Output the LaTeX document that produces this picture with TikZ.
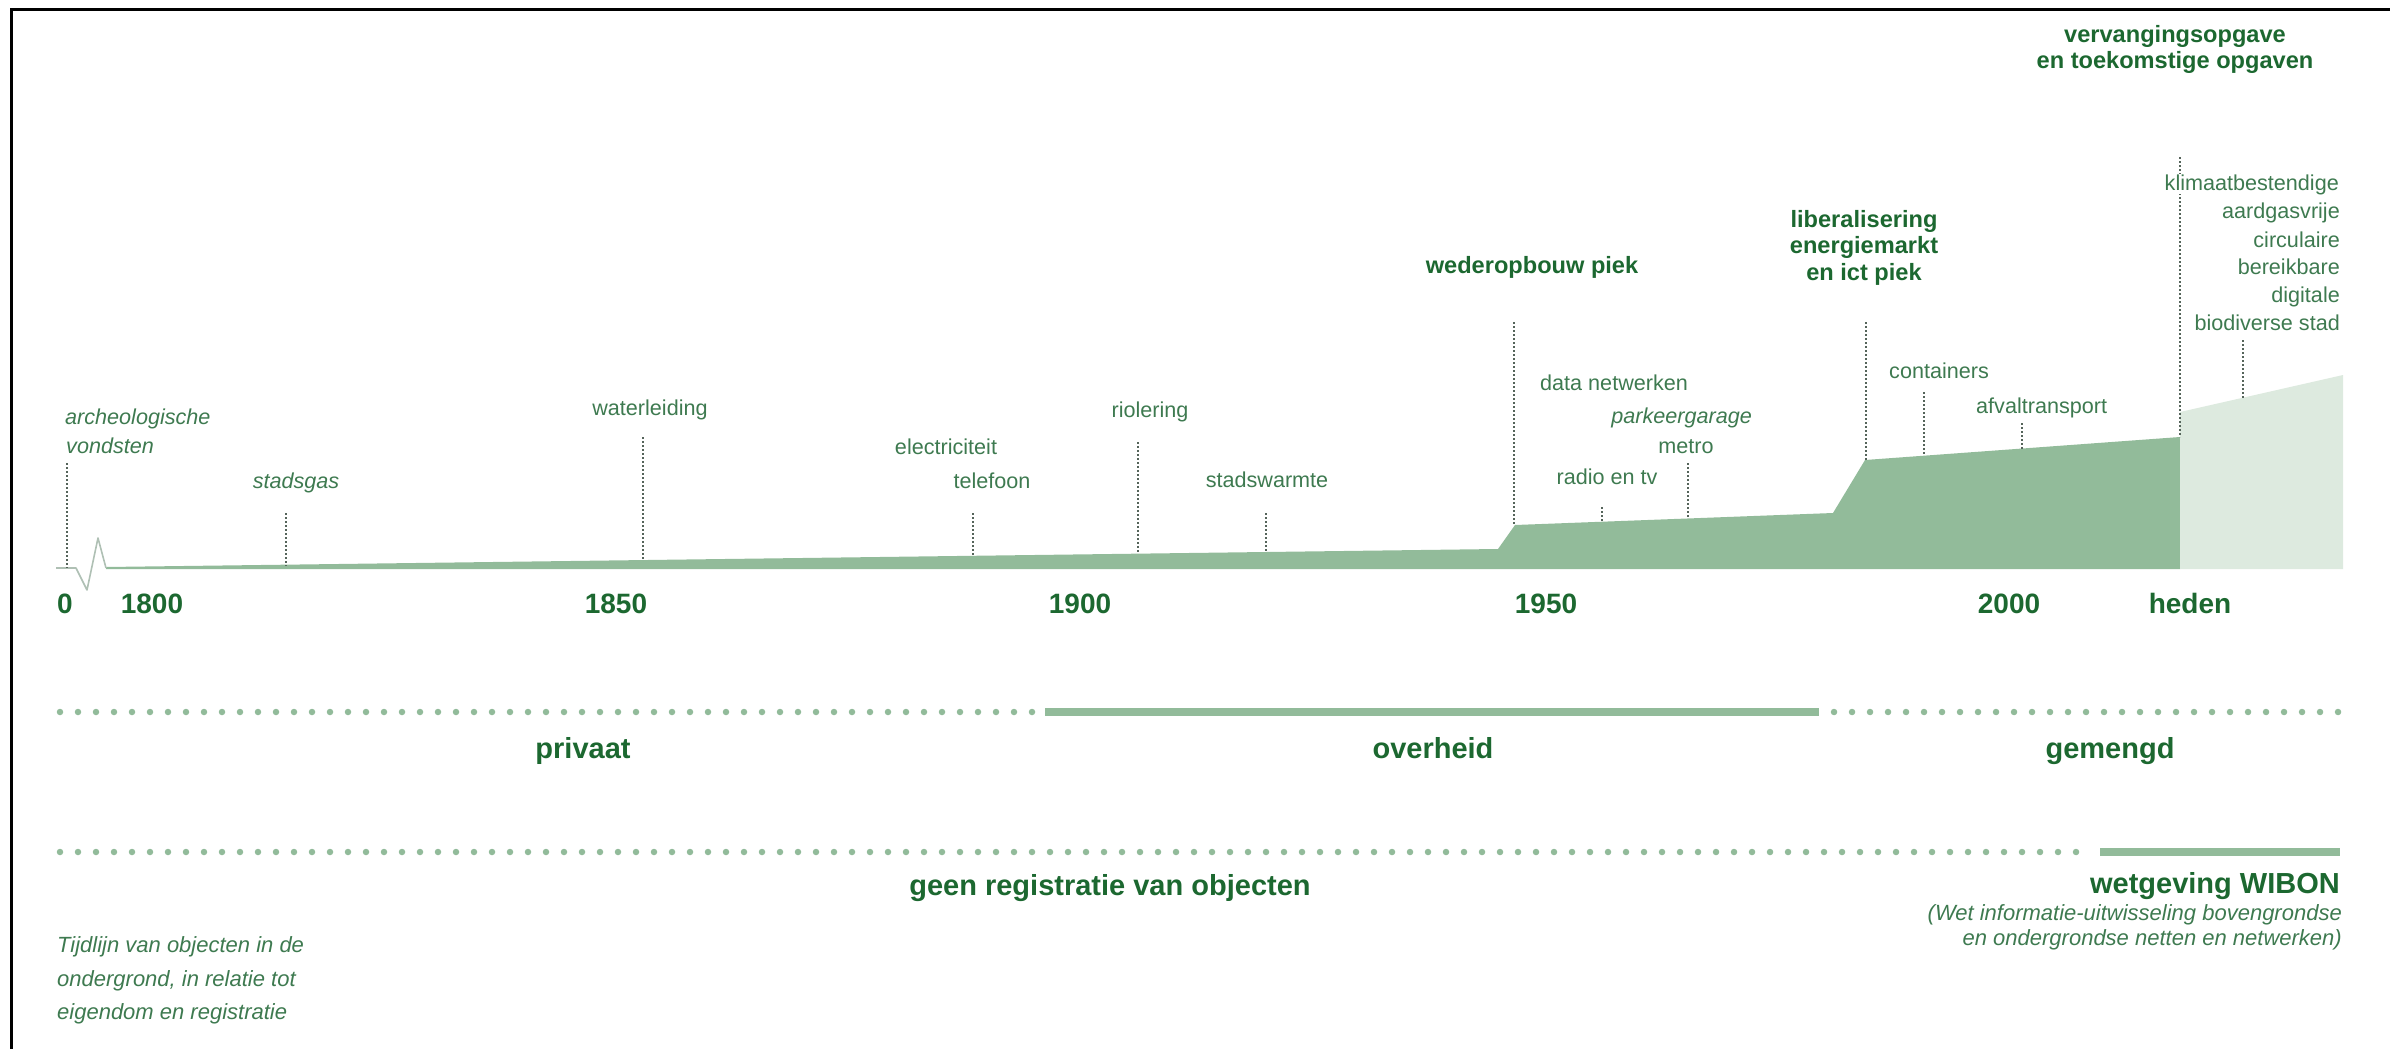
\documentclass[tikz,border=0pt]{standalone}
\usepackage{fontspec}
\setmainfont{Liberation Sans}
\definecolor{labc}{RGB}{62,122,80}
\definecolor{headc}{RGB}{28,104,48}
\definecolor{fillc}{RGB}{146,187,154}
\definecolor{lightc}{RGB}{221,234,223}
\definecolor{barc}{RGB}{146,187,154}
\definecolor{dropc}{RGB}{85,100,90}
\definecolor{zigc}{RGB}{175,192,180}
\tikzset{
 lab/.style={inner sep=0pt, text=labc, font=\fontsize{21.6}{26}\selectfont},
 ilab/.style={inner sep=0pt, text=labc, font=\fontsize{21.6}{26}\selectfont\itshape},
 head/.style={inner sep=0pt, text=headc, font=\fontsize{23.6}{28}\selectfont\bfseries},
 yr/.style={inner sep=0pt, text=headc, font=\fontsize{28}{32}\selectfont\bfseries},
 cat/.style={inner sep=0pt, text=headc, font=\fontsize{29}{34}\selectfont\bfseries},
 sub/.style={inner sep=0pt, text=labc, font=\fontsize{22}{26}\selectfont\itshape},
 drop/.style={draw=dropc, line width=2pt, dash pattern=on 1.6pt off 2.4pt},
 dotbar/.style={draw=barc, line width=6.5pt, line cap=round, dash pattern=on 0pt off 18pt},
 solidbar/.style={draw=barc, line width=8pt},
}
\begin{document}
\begin{tikzpicture}[x=1pt,y=-1pt]
\useasboundingbox (0,0) rectangle (2390,1049);
% frame
\draw[line width=3pt, black] (11,1049) -- (11,9.5) -- (2390,9.5);

% area fills
\fill[fillc] (106,569) -- (106,567) -- (1498,549) -- (1515,525) -- (1833,513)
  -- (1865,460) -- (2180,437) -- (2180,569) -- cycle;
\fill[lightc] (2180,569) -- (2180,412) -- (2343,375) -- (2343,569) -- cycle;
% zigzag break
\draw[zigc, line width=1.6pt, line join=round] (56,568) -- (76,568) -- (87,590) -- (98,538) -- (106,568);

% drop lines: coordinates
\foreach \n/\x/\a/\b in {arch/67/463/568, gas/286/513/566, water/643/437/560,
  tel/973/513/556, riool/1138/442/553, warm/1266/513/551, wed/1514/322/525,
  radio/1602/507/522, metro/1688/463/518, lib/1866/322/460, cont/1924/392/455,
  afval/2022/423/449, heden/2180/157/437, bio/2243/340/398}{
  \coordinate (\n-t) at (\x,\a);
  \coordinate (\n-b) at (\x,\b);
  \draw[drop] (\n-t) -- (\n-b);
}

% labels
\node[ilab, anchor=base west] (archA) at (65,424) {archeologische};
\node[ilab, anchor=base west] (archB) at (66,453) {vondsten};
\node[ilab, anchor=base] (gas) at (296,488) {stadsgas};
\node[lab, anchor=base] (water) at (650,415) {waterleiding};
\node[lab, anchor=base] (elec) at (946,454) {electriciteit};
\node[lab, anchor=base] (tel) at (992,488) {telefoon};
\node[lab, anchor=base] (riool) at (1150,417) {riolering};
\node[lab, anchor=base] (warm) at (1267,487) {stadswarmte};
\node[head, anchor=base] (wed) at (1532,273) {wederopbouw piek};
\node[lab, anchor=base west] (data) at (1540,390) {data netwerken};
\node[ilab, anchor=base east] (park) at (1752,423) {parkeergarage};
\node[lab, anchor=base] (metro) at (1686,453) {metro};
\node[lab, anchor=base] (radio) at (1607,484) {radio en tv};
\node[head, anchor=base] (libA) at (1864,227) {liberalisering};
\node[head, anchor=base] (libB) at (1864,253) {energiemarkt};
\node[head, anchor=base] (libC) at (1864,280) {en ict piek};
\node[lab, anchor=base west] (cont) at (1889,378) {containers};
\node[lab, anchor=base west] (afval) at (1976,413) {afvaltransport};
\node[head, anchor=base] (verA) at (2175,43) {vervangingsopgave};
\node[head, anchor=base] (verB) at (2175,69) {en toekomstige opgaven};
\node[lab, anchor=base east, fill=white, inner xsep=1pt] (k1) at (2340,190) {klimaatbestendige};
\node[lab, anchor=base east] (k2) at (2340,218) {aardgasvrije};
\node[lab, anchor=base east] (k3) at (2340,247) {circulaire};
\node[lab, anchor=base east] (k4) at (2340,274) {bereikbare};
\node[lab, anchor=base east] (k5) at (2340,302) {digitale};
\node[lab, anchor=base east] (k6) at (2340,330) {biodiverse stad};

% years
\node[yr, anchor=base] (y0) at (65,613) {0};
\node[yr, anchor=base] (y1800) at (152,613) {1800};
\node[yr, anchor=base] (y1850) at (616,613) {1850};
\node[yr, anchor=base] (y1900) at (1080,613) {1900};
\node[yr, anchor=base] (y1950) at (1546,613) {1950};
\node[yr, anchor=base] (y2000) at (2009,613) {2000};
\node[yr, anchor=base] (yh) at (2190,613) {heden};

% ownership bar
\coordinate (o1) at (60,712);
\coordinate (o2) at (1040,712);
\coordinate (o3) at (1045,712);
\coordinate (o4) at (1819,712);
\coordinate (o5) at (1834,712);
\coordinate (o6) at (2340,712);
\draw[dotbar] (o1) -- (o2);
\draw[solidbar] (o3) -- (o4);
\draw[dotbar] (o5) -- (o6);
\node[cat, anchor=base] (priv) at (583,758) {privaat};
\node[cat, anchor=base] (over) at (1433,758) {overheid};
\node[cat, anchor=base] (gem) at (2110,758) {gemengd};

% registration bar
\coordinate (r1) at (60,852);
\coordinate (r2) at (2092,852);
\coordinate (r3) at (2100,852);
\coordinate (r4) at (2340,852);
\draw[dotbar] (r1) -- (r2);
\draw[solidbar] (r3) -- (r4);
\node[cat, anchor=base] (geen) at (1110,895) {geen registratie van objecten};
\node[cat, anchor=base east] (wib) at (2340,893) {wetgeving WIBON};
\node[sub, anchor=base east] (wibA) at (2342,920) {(Wet informatie-uitwisseling bovengrondse};
\node[sub, anchor=base east] (wibB) at (2342,945) {en ondergrondse netten en netwerken)};

% caption
\node[sub, anchor=base west] (capA) at (57,952) {Tijdlijn van objecten in de};
\node[sub, anchor=base west] (capB) at (57,986) {ondergrond, in relatie tot};
\node[sub, anchor=base west] (capC) at (57,1019) {eigendom en registratie};
\end{tikzpicture}
\end{document}
